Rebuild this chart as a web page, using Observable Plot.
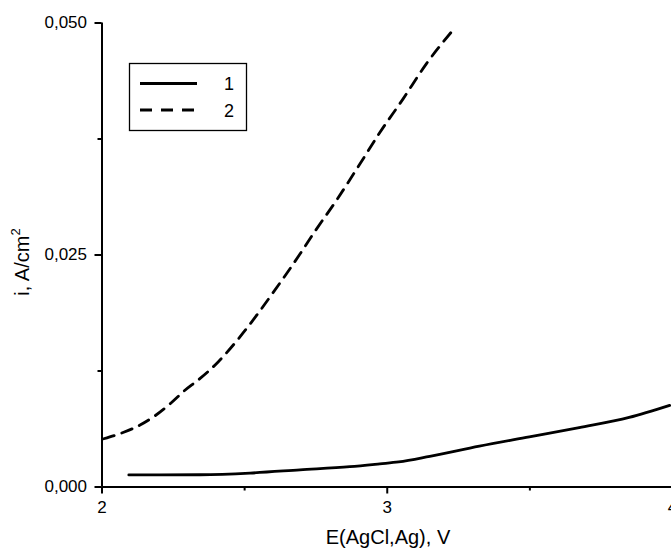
<!DOCTYPE html>
<html><head><meta charset="utf-8">
<script src="https://cdn.jsdelivr.net/npm/d3@7"></script>
<script src="https://cdn.jsdelivr.net/npm/@observablehq/plot@0.6"></script>
<style>
body{margin:0;background:#fff;}
#chart svg{display:block;}
</style></head><body><div id="chart"></div>
<script>
// ---- data ----
const curve1X = [2.094, 2.20, 2.344, 2.519, 2.694, 2.869, 2.974, 3.04, 3.149, 3.323, 3.498, 3.673, 3.848, 3.99];
const curve1Y = [0.0013, 0.0013, 0.00132, 0.0015, 0.00185, 0.0022, 0.0025, 0.0027, 0.0033, 0.0044, 0.0054, 0.0064, 0.0075, 0.0088];
const curve2X = [2.006, 2.076, 2.135, 2.187, 2.24, 2.286, 2.344, 2.408, 2.449, 2.525, 2.601, 2.694, 2.741, 2.822, 2.904, 2.974, 3.055, 3.137, 3.224];
const curve2Y = [0.0052, 0.0059, 0.0067, 0.0077, 0.009, 0.0103, 0.0117, 0.0135, 0.0149, 0.0178, 0.021, 0.0251, 0.0273, 0.0309, 0.0348, 0.0382, 0.0418, 0.0456, 0.0490];
const seriesNames = ["1", "2"];
const xTicks = [2, 3, 4];
const xMinorTicks = [2.5, 3.5];
const yTicks = [0, 0.025, 0.05];
const yMinorTicks = [0.0125, 0.0375];
const xTitle = "E(AgCl,Ag), V";
const yTitleMain = "i, A/cm";
const yTitleSup = "2";

const data1 = curve1X.map((x, i) => ({x, y: curve1Y[i], s: seriesNames[0]}));
const data2 = curve2X.map((x, i) => ({x, y: curve2Y[i], s: seriesNames[1]}));
const fmtY = d => d3.format(".3f")(d).replace(".", ",");
const FONT = "'Liberation Sans', Arial, sans-serif";

const plot = Plot.plot({
  width: 671, height: 553,
  marginLeft: 101.5, marginRight: -1, marginTop: 22.5, marginBottom: 66.5,
  style: {fontFamily: FONT, fontSize: "17px", background: "#fff", color: "#000"},
  x: {domain: [2, 4]},
  y: {domain: [0, 0.05]},
  marks: [
    Plot.axisX(xTicks, {tickSize: 7, tickPadding: 7, tickFormat: d => String(d), strokeWidth: 2, label: null, fontSize: 17}),
    Plot.axisX(xMinorTicks, {tickSize: 4, tickFormat: () => "", strokeWidth: 2, label: null}),
    Plot.axisY(yTicks, {tickSize: 7, tickPadding: 8, tickFormat: fmtY, strokeWidth: 2, label: null, fontSize: 17}),
    Plot.axisY(yMinorTicks, {tickSize: 4, tickFormat: () => "", strokeWidth: 2, label: null}),
    Plot.ruleX([2], {strokeWidth: 2}),
    Plot.ruleY([0], {strokeWidth: 2}),
    Plot.line(data1, {x: "x", y: "y", stroke: "#000", strokeWidth: 2.8, curve: "monotone-x"}),
    Plot.line(data2, {x: "x", y: "y", stroke: "#000", strokeWidth: 2.8, strokeDasharray: "11,8", curve: "monotone-x"})
  ]
});

const svg = d3.select(plot);
// axis titles
svg.append("text").attr("x", 388).attr("y", 544).attr("text-anchor", "middle")
  .attr("font-family", FONT).attr("font-size", 20).attr("fill", "#000").text(xTitle);
const yt = svg.append("text").attr("transform", "translate(29,262) rotate(-90)").attr("text-anchor", "middle")
  .attr("font-family", FONT).attr("font-size", 20).attr("fill", "#000");
yt.append("tspan").text(yTitleMain);
yt.append("tspan").attr("font-size", 13).attr("dy", -9).text(yTitleSup);

// legend
const lg = svg.append("g");
lg.append("rect").attr("x", 129.5).attr("y", 63.5).attr("width", 117).attr("height", 67)
  .attr("fill", "#fff").attr("stroke", "#000").attr("stroke-width", 1.3);
const dashes = [null, "12,9"];
[83.5, 110].forEach((yy, i) => {
  lg.append("line").attr("x1", 140).attr("x2", 197).attr("y1", yy).attr("y2", yy)
    .attr("stroke", "#000").attr("stroke-width", 2.8).attr("stroke-dasharray", dashes[i]);
  lg.append("text").attr("x", 229).attr("y", yy + 6.5).attr("text-anchor", "middle")
    .attr("font-family", FONT).attr("font-size", 18).attr("fill", "#000").text(seriesNames[i]);
});

document.getElementById("chart").appendChild(plot);
</script></body></html>
